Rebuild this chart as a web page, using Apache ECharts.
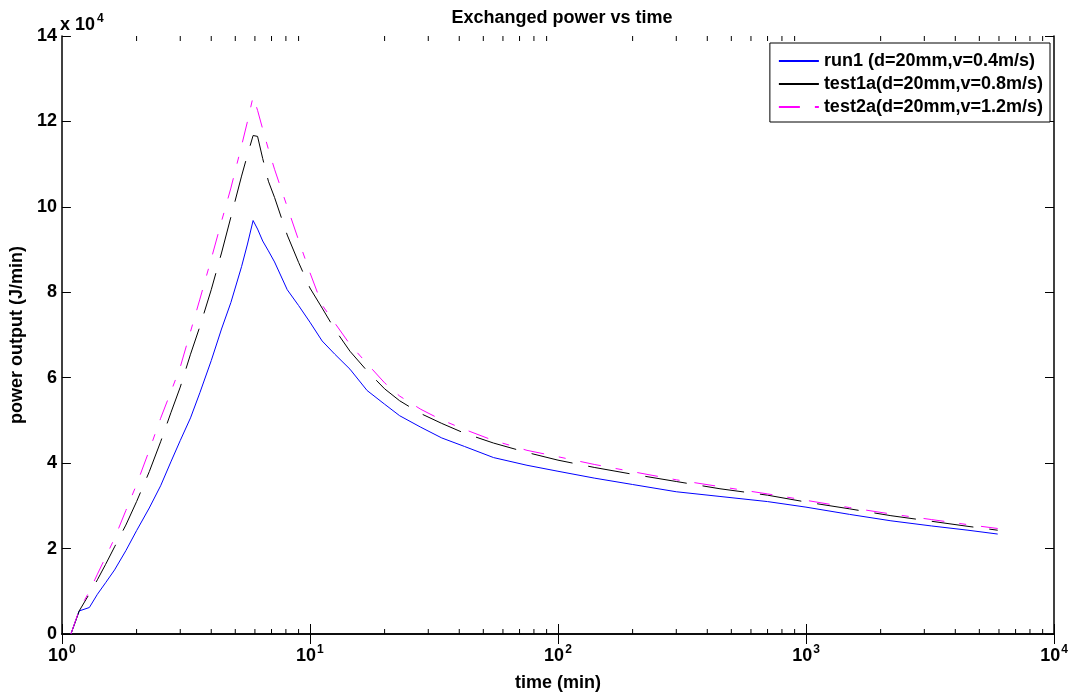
<!DOCTYPE html>
<html>
<head>
<meta charset="utf-8">
<script src="https://cdn.jsdelivr.net/npm/echarts@6/dist/echarts.min.js"></script>
<style>html,body{margin:0;padding:0;background:#fff}#c{width:1073px;height:697px}</style>
</head>
<body>
<div id="c"></div>
<script>
var time = [1.087, 1.174, 1.29, 1.39, 1.5, 1.63, 1.81, 2.0, 2.25, 2.5, 2.75, 3.0, 3.3, 3.6, 4.0, 4.4, 4.8, 5.3, 5.6, 5.9, 6.15, 6.45, 6.8, 7.2, 8.1, 9.0, 10, 11.2, 12.6, 14.5, 17, 20, 23, 28, 34, 42, 55, 75, 100, 140, 200, 300, 450, 700, 1000, 1500, 2200, 3200, 4500, 5930];
var run1 = [0, 5400, 6200, 9300, 12000, 15000, 19500, 24200, 29500, 34700, 40300, 45300, 50600, 56500, 64000, 71400, 77600, 86000, 91300, 96800, 94800, 92000, 89700, 87100, 80600, 76900, 73000, 68600, 65500, 62000, 57000, 53800, 51100, 48400, 45900, 43900, 41300, 39500, 38100, 36500, 35000, 33300, 32200, 31000, 29700, 28000, 26500, 25300, 24300, 23400];
var test1a = [0, 5400, 9400, 12700, 16300, 20400, 25500, 31000, 38000, 45000, 51800, 57800, 65500, 72000, 80600, 89200, 97600, 107200, 112200, 116700, 116500, 111300, 106000, 102200, 93400, 87000, 81000, 76300, 71300, 66200, 61600, 57400, 54600, 51600, 49300, 47000, 44700, 42500, 40700, 39000, 37400, 35700, 34000, 32500, 30900, 29300, 27700, 26400, 25200, 24300];
var test2a = [0, 5600, 10000, 14000, 18000, 22400, 28900, 35000, 43000, 50500, 56700, 62500, 70800, 78400, 87800, 96600, 104400, 114300, 120000, 125800, 122600, 118200, 113500, 108800, 100000, 92200, 84600, 77000, 72800, 67800, 63300, 58800, 55700, 52600, 50100, 47900, 45300, 43000, 41500, 39700, 38000, 36100, 34500, 32800, 31300, 29600, 28100, 26800, 25600, 24700];
var seriesNames = ['run1 (d=20mm,v=0.4m/s)', 'test1a(d=20mm,v=0.8m/s)', 'test2a(d=20mm,v=1.2m/s)'];
var minorTicks = [2,3,4,5,6,7,8,9,20,30,40,50,60,70,80,90,200,300,400,500,600,700,800,900,2000,3000,4000,5000,6000,7000,8000,9000];
var yMin = 0, yMax = 140000, yStep = 20000;

function pairs(vals){ return time.map(function(t,i){ return [t, vals[i]]; }); }

var FONT = '"Liberation Sans", Arial, sans-serif';
var chart = echarts.init(document.getElementById('c'));

var axisLineStyle = {color:'#000', width:1.5};
var tickStyle = {color:'#000', width:1};

var option = {
  animation: false,
  backgroundColor: '#fff',
  title: {
    text: 'Exchanged power vs time',
    left: 557, top: 4, textAlign: 'center',
    textStyle: {fontFamily: FONT, fontWeight: 'bold', fontSize: 18, color: '#000'}
  },
  grid: {left: 61, right: 19, top: 36, bottom: 57},
  legend: {
    orient: 'vertical', right: 23, top: 43,
    data: seriesNames,
    itemWidth: 40, itemHeight: 14, itemGap: 5,
    padding: [9, 7, 6, 8],
    borderColor: '#000', borderWidth: 1, backgroundColor: '#fff',
    itemStyle: {opacity: 0},
    textStyle: {fontFamily: FONT, fontWeight: 'bold', fontSize: 18, color: '#000'}
  },
  xAxis: [{
    type: 'log', logBase: 10, min: 1, max: 10000,
    position: 'bottom',
    name: 'time (min)', nameLocation: 'middle', nameGap: 40,
    nameTextStyle: {fontFamily: FONT, fontWeight: 'bold', fontSize: 18, color: '#000'},
    axisLine: {show: true, lineStyle: axisLineStyle},
    axisTick: {show: true, inside: true, length: 10, lineStyle: tickStyle},
    splitLine: {show: false},
    axisLabel: {
      margin: 10, color: '#000',
      formatter: function(v){ return '{b|10}{s|' + Math.round(Math.log10(v)) + '}'; },
      rich: {
        b: {fontFamily: FONT, fontWeight: 'bold', fontSize: 18, color: '#000'},
        s: {fontFamily: FONT, fontWeight: 'bold', fontSize: 12, color: '#000', padding: [0, 0, 12, 1]}
      }
    }
  }, {
    type: 'log', logBase: 10, min: 1, max: 10000,
    position: 'top',
    axisLine: {show: true, lineStyle: axisLineStyle},
    axisTick: {show: true, inside: true, length: 10, lineStyle: tickStyle},
    axisLabel: {show: false}, splitLine: {show: false}
  }],
  yAxis: [{
    type: 'value', min: yMin, max: yMax, interval: yStep,
    position: 'left',
    name: 'power output (J/min)', nameLocation: 'middle', nameGap: 34, nameRotate: 90,
    nameTextStyle: {fontFamily: FONT, fontWeight: 'bold', fontSize: 18, color: '#000'},
    axisLine: {show: true, lineStyle: axisLineStyle},
    axisTick: {show: true, inside: true, length: 9, lineStyle: tickStyle},
    splitLine: {show: false},
    axisLabel: {
      margin: 5, color: '#000', fontFamily: FONT, fontWeight: 'bold', fontSize: 18,
      formatter: function(v){ return String(Math.round(v / 10000)); }
    }
  }, {
    type: 'value', min: yMin, max: yMax, interval: yStep,
    position: 'right',
    axisLine: {show: true, lineStyle: axisLineStyle},
    axisTick: {show: true, inside: true, length: 9, lineStyle: tickStyle},
    axisLabel: {show: false}, splitLine: {show: false}
  }],
  graphic: [{
    type: 'text', left: 60, top: 13,
    style: {
      text: '{b|x 10}{s|4}',
      rich: {
        b: {fontFamily: FONT, fontWeight: 'bold', fontSize: 18, fill: '#000'},
        s: {fontFamily: FONT, fontWeight: 'bold', fontSize: 12, fill: '#000', padding: [0, 0, 12, 2]}
      }
    }
  }],
  series: [{
    name: seriesNames[0], type: 'line', data: pairs(run1),
    showSymbol: false, symbol: 'none',
    lineStyle: {color: '#0000ff', width: 1, type: 'solid'},
    itemStyle: {color: '#0000ff'}
  }, {
    name: seriesNames[1], type: 'line', data: pairs(test1a),
    showSymbol: false, symbol: 'none',
    lineStyle: {color: '#000000', width: 1, type: [42, 16]},
    itemStyle: {color: '#000000'}
  }, {
    name: seriesNames[2], type: 'line', data: pairs(test2a),
    showSymbol: false, symbol: 'none',
    lineStyle: {color: '#ff00ff', width: 1, type: [21, 15, 7, 15]},
    itemStyle: {color: '#ff00ff'}
  }, {
    name: 'minorTicks', type: 'custom', silent: true, clip: false, z: 5,
    data: minorTicks.map(function(t){ return [t, yMin]; }),
    renderItem: function(params, api){
      var x = api.value(0);
      var b = api.coord([x, yMin]);
      var t = api.coord([x, yMax]);
      return {
        type: 'group',
        children: [
          {type: 'line', shape: {x1: b[0], y1: b[1], x2: b[0], y2: b[1] - 5}, style: {stroke: '#000', lineWidth: 1}},
          {type: 'line', shape: {x1: t[0], y1: t[1], x2: t[0], y2: t[1] + 5}, style: {stroke: '#000', lineWidth: 1}}
        ]
      };
    }
  }]
};
chart.setOption(option);
</script>
</body>
</html>
